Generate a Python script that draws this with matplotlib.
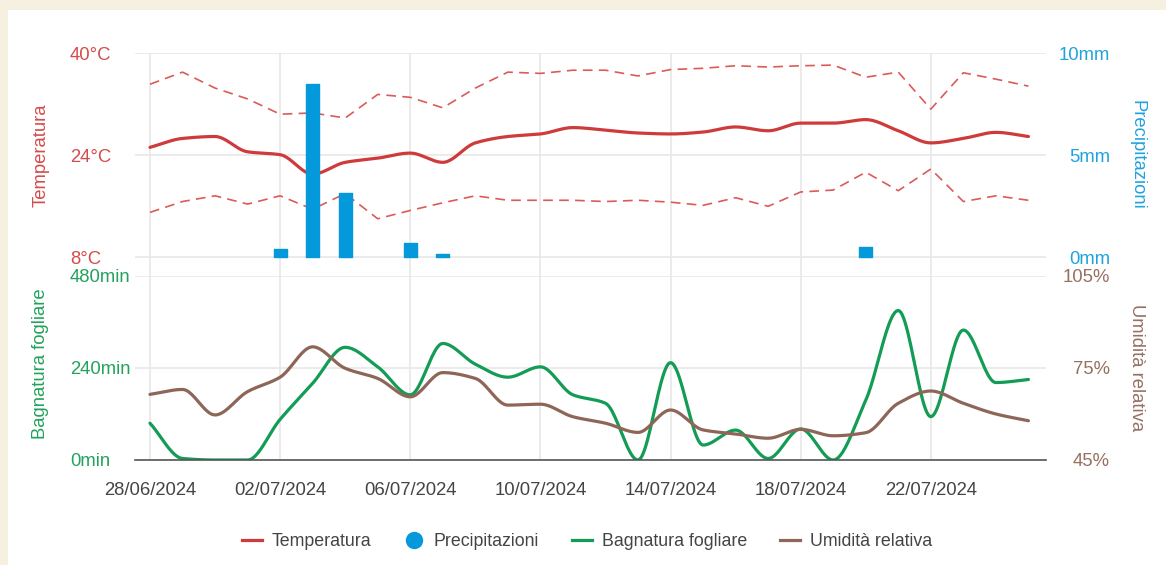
import numpy as np
import matplotlib
matplotlib.use("Agg")
import matplotlib.pyplot as plt
from matplotlib.lines import Line2D
from matplotlib.patches import Rectangle

plt.rcParams['font.family'] = ['Liberation Sans', 'DejaVu Sans']
plt.rcParams['lines.scale_dashes'] = False

# ---------------- data ----------------
dates = ["28/06/2024", "29/06/2024", "30/06/2024", "01/07/2024", "02/07/2024", "03/07/2024",
         "04/07/2024", "05/07/2024", "06/07/2024", "07/07/2024", "08/07/2024", "09/07/2024",
         "10/07/2024", "11/07/2024", "12/07/2024", "13/07/2024", "14/07/2024", "15/07/2024",
         "16/07/2024", "17/07/2024", "18/07/2024", "19/07/2024", "20/07/2024", "21/07/2024",
         "22/07/2024", "23/07/2024", "24/07/2024", "25/07/2024"]
temp_mean = [25.2, 26.6, 26.9, 24.5, 24.05, 21.0, 22.85, 23.5, 24.3, 22.85, 25.9, 26.9,
             27.3, 28.3, 27.9, 27.45, 27.3, 27.6, 28.4, 27.8, 29.0, 29.0, 29.55, 27.8,
             25.9, 26.6, 27.55, 26.9]
temp_max = [35.1, 37.0, 34.5, 32.8, 30.4, 30.6, 29.8, 33.5, 33.05, 31.4, 34.5, 37.0,
            36.8, 37.3, 37.3, 36.4, 37.4, 37.6, 38.0, 37.8, 38.0, 38.1, 36.2, 37.0,
            31.2, 36.9, 35.9, 34.8]
temp_min = [15.0, 16.7, 17.6, 16.3, 17.6, 15.5, 17.95, 14.0, 15.3, 16.5, 17.6, 16.9,
            16.9, 16.9, 16.7, 16.9, 16.6, 16.1, 17.3, 15.95, 18.2, 18.5, 21.3, 18.4,
            21.8, 16.7, 17.6, 16.9]
precip = [0, 0, 0, 0, 0.38, 8.48, 3.12, 0, 0.7, 0.15, 0, 0,
          0, 0, 0, 0, 0, 0, 0, 0, 0, 0, 0.5, 0,
          0, 0, 0, 0]
leaf_wet = [96, 4, 0, 0, 106, 200, 294, 243, 170, 304, 250, 216,
            243, 170, 148, 0, 254, 39, 78, 4, 81, 0, 156, 390,
            113, 339, 202, 210]
humidity = [66.4, 68.0, 59.7, 67.3, 72.0, 81.9, 74.9, 71.6, 65.6, 73.5, 71.6, 62.9,
            63.2, 59.1, 57.0, 54.0, 61.3, 54.8, 53.5, 52.1, 55.0, 52.9, 53.9, 63.5,
            67.5, 63.5, 60.0, 57.8]

temp_ticks = [8, 24, 40]
temp_labels = ["8°C", "24°C", "40°C"]
precip_ticks = [0, 5, 10]
precip_labels = ["0mm", "5mm", "10mm"]
leaf_ticks = [0, 240, 480]
leaf_labels = ["0min", "240min", "480min"]
hum_ticks = [45, 75, 105]
hum_labels = ["45%", "75%", "105%"]

# ---------------- style ----------------
C_TEMP = '#cf3a3a'
C_TEMP_DASH = '#db5a5a'
C_TEMP_TXT = '#d44b4b'
C_PREC = '#0399da'
C_PREC_TXT = '#1fa3de'
C_LEAF = '#129c55'
C_LEAF_TXT = '#22a25c'
C_HUM = '#8d6658'
C_HUM_TXT = '#967061'
C_GRID = '#e6e6e6'
C_TXT = '#444444'
FS = 13.3

W, H = 1166, 565


def smooth(x, y, n=24):
    """monotone cubic (Fritsch-Carlson) rendering of a series"""
    x = np.asarray(x, float)
    y = np.asarray(y, float)
    h = np.diff(x)
    delta = np.diff(y) / h
    d = np.zeros_like(y)
    d[0] = delta[0]
    d[-1] = delta[-1]
    for k in range(1, len(y) - 1):
        if delta[k - 1] * delta[k] <= 0:
            d[k] = 0.0
        else:
            w1 = 2 * h[k] + h[k - 1]
            w2 = h[k] + 2 * h[k - 1]
            d[k] = (w1 + w2) / (w1 / delta[k - 1] + w2 / delta[k])
    xs, ys = [], []
    for k in range(len(y) - 1):
        t = np.linspace(0, 1, n, endpoint=False)
        h00 = 2 * t**3 - 3 * t**2 + 1
        h10 = t**3 - 2 * t**2 + t
        h01 = -2 * t**3 + 3 * t**2
        h11 = t**3 - t**2
        xs.append(x[k] + t * h[k])
        ys.append(h00 * y[k] + h10 * h[k] * d[k] + h01 * y[k + 1] + h11 * h[k] * d[k + 1])
    xs.append([x[-1]])
    ys.append([y[-1]])
    return np.concatenate(xs), np.concatenate(ys)


fig = plt.figure(figsize=(W / 100, H / 100), dpi=100)
fig.patch.set_facecolor('#f6f0e0')
fig.patches.append(Rectangle((8 / W, 0), 1, 1 - 10 / H, transform=fig.transFigure,
                             facecolor='white', edgecolor='none', zorder=-10))

x = np.arange(len(dates))
xlim = (-0.46, 27.54)
xticks = x[::4]

# ---------- top panel ----------
ax_t = fig.add_axes([135 / W, 1 - 276 / H, 911 / W, 223 / H])
ax_t.set_xlim(*xlim)
ax_t.set_ylim(8 - 19 / 6.375, 40)
ax_t.set_xticks(xticks)
ax_t.set_xticklabels([])
ax_t.set_yticks(temp_ticks)
ax_t.set_yticklabels(temp_labels)
ax_t.tick_params(axis='x', length=0)
ax_t.tick_params(axis='y', length=0, pad=46.8, labelsize=FS, labelcolor=C_TEMP_TXT)
for lab in ax_t.get_yticklabels():
    lab.set_horizontalalignment('left')
ax_t.grid(True, color=C_GRID, lw=1.1)
ax_t.set_axisbelow(True)
for s in ax_t.spines.values():
    s.set_visible(False)
ax_t.set_facecolor('none')

ax_t.plot(x, temp_max, color=C_TEMP_DASH, lw=1.2, dashes=(7, 4.5))
ax_t.plot(x, temp_min, color=C_TEMP_DASH, lw=1.2, dashes=(7, 4.5))
sx, sy = smooth(x, temp_mean)
ax_t.plot(sx, sy, color=C_TEMP, lw=2.3, solid_capstyle='round')

ax_p = ax_t.twinx()
ax_p.set_xlim(*xlim)
ax_p.set_ylim(-19 / 20.4, 10)
ax_p.set_yticks(precip_ticks)
ax_p.set_yticklabels(precip_labels)
ax_p.tick_params(axis='y', length=0, pad=46.1, labelsize=FS, labelcolor=C_PREC_TXT)
for lab in ax_p.get_yticklabels():
    lab.set_horizontalalignment('right')
for s in ax_p.spines.values():
    s.set_visible(False)
edge_w = [1.0 if v > 0 else 0.0 for v in precip]
ax_p.bar(x, precip, width=0.40, color=C_PREC, edgecolor=C_PREC, linewidth=edge_w,
         joinstyle='round')

# ---------- bottom panel ----------
ax_b = fig.add_axes([135 / W, 1 - 460 / H, 911 / W, 184 / H])
ax_b.set_xlim(*xlim)
ax_b.set_ylim(0, 480)
ax_b.set_xticks(xticks)
ax_b.set_xticklabels([dates[i] for i in xticks])
ax_b.tick_params(axis='x', length=0, pad=15.5, labelsize=FS, labelcolor=C_TXT)
ax_b.set_yticks(leaf_ticks)
ax_b.set_yticklabels(leaf_labels)
ax_b.tick_params(axis='y', length=0, pad=46.8, labelsize=FS, labelcolor=C_LEAF_TXT)
for lab in ax_b.get_yticklabels():
    lab.set_horizontalalignment('left')
ax_b.grid(True, color=C_GRID, lw=1.1)
ax_b.set_axisbelow(True)
for k, s in ax_b.spines.items():
    s.set_visible(k == 'bottom')
ax_b.spines['bottom'].set_color('#555555')
ax_b.spines['bottom'].set_linewidth(1.2)
ax_b.set_facecolor('none')

lx, ly = smooth(x, leaf_wet)
ly = np.clip(ly, 0, 480)
ax_b.plot(lx, ly, color=C_LEAF, lw=2.3, solid_capstyle='round')

ax_h = ax_b.twinx()
ax_h.set_xlim(*xlim)
ax_h.set_ylim(45, 105)
ax_h.set_yticks(hum_ticks)
ax_h.set_yticklabels(hum_labels)
ax_h.tick_params(axis='y', length=0, pad=46.1, labelsize=FS, labelcolor=C_HUM_TXT)
for lab in ax_h.get_yticklabels():
    lab.set_horizontalalignment('right')
for s in ax_h.spines.values():
    s.set_visible(False)
hx, hy = smooth(x, humidity)
ax_h.plot(hx, hy, color=C_HUM, lw=2.3, solid_capstyle='round')

# ---------- axis titles ----------
def ftext(px, py, s, **kw):
    fig.text(px / W, 1 - py / H, s, ha='center', va='center', fontsize=FS, **kw)

ftext(41, 155, "Temperatura", rotation=90, color=C_TEMP_TXT)
ftext(41, 364, "Bagnatura fogliare", rotation=90, color=C_LEAF_TXT)
ftext(1137, 155, "Precipitazioni", rotation=-90, color=C_PREC_TXT)
ftext(1137, 368, "Umidità relativa", rotation=-90, color=C_HUM_TXT)

# ---------- legend ----------
handles = [
    Line2D([], [], color=C_TEMP, lw=2.3),
    Line2D([], [], color=C_PREC, lw=0, marker='o', markersize=11.5),
    Line2D([], [], color=C_LEAF, lw=2.3),
    Line2D([], [], color=C_HUM, lw=2.3),
]
labels = ["Temperatura", "Precipitazioni", "Bagnatura fogliare", "Umidità relativa"]
leg = fig.legend(handles, labels, loc='center', bbox_to_anchor=(587 / W, 1 - 542 / H),
                 ncol=4, frameon=False, fontsize=12.8, handlelength=1.1,
                 handletextpad=0.55, columnspacing=1.87, borderpad=0)
for t in leg.get_texts():
    t.set_color(C_TXT)

fig.savefig("out.png", dpi=100, facecolor=fig.get_facecolor())
